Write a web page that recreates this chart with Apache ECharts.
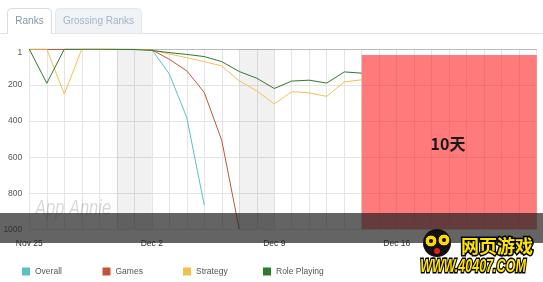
<!DOCTYPE html>
<html>
<head>
<meta charset="utf-8">
<script src="https://cdn.jsdelivr.net/npm/echarts@6/dist/echarts.min.js"></script>
<style>
html,body{margin:0;padding:0;background:#fff;}
#c{width:543px;height:282px;}
</style>
</head>
<body>
<div id="c"></div>
<script>
var dates = ['Nov 25','Nov 26','Nov 27','Nov 28','Nov 29','Nov 30','Dec 1','Dec 2','Dec 3','Dec 4',
  'Dec 5','Dec 6','Dec 7','Dec 8','Dec 9','Dec 10','Dec 11','Dec 12','Dec 13','Dec 14',
  'Dec 15','Dec 16','Dec 17','Dec 18','Dec 19','Dec 20','Dec 21','Dec 22','Dec 23','Dec 24'];
var overall = [2,2,2,2,2,2,2,3,138,380,866];
var games = [2,2,2,2,2,2,2,4,57,121,241,507,1000];
var strategy = [1,1,250,1,1,1,2,6,28,48,70,94,177,232,305,237,243,263,182,171];
var rolePlaying = [1,190,1,1,1,2,3,8,20,30,42,70,125,162,219,178,173,189,127,134];
var yTicks = ['1','200','400','600','800','1000'];
var weekends = [['Nov 30','Dec 2'],['Dec 7','Dec 9']];
var highlight = {from:'Dec 14', to:'Dec 24', top:33, bottom:1000, label:'10天'};
var legendNames = ['Overall','Games','Strategy','Role Playing'];
var colors = ['#5bc0c8','#c4533b','#f2c14e','#2f7a2f'];

var chart = echarts.init(document.getElementById('c'), null, {renderer:'canvas'});
var font = 'Liberation Sans, Arial, sans-serif';

function mkSeries(name, data, color, extra){
  var s = {name:name, type:'line', data:data, symbol:'none', smooth:false,
    lineStyle:{width:1, color:color}, itemStyle:{color:color}, z:3};
  if (extra) for (var k in extra) s[k]=extra[k];
  return s;
}

var legendLefts = [17, 97.5, 178, 258];
var option = {
  animation:false,
  color: colors,
  grid:{left:29.3, right:6.3, top:49, bottom:52.7},
  legend: legendNames.map(function(n,i){
    return {data:[n], left:legendLefts[i], top:262, itemWidth:8, itemHeight:8, icon:'rect',
      textStyle:{fontSize:8.5, color:'#555', fontFamily:font}, itemGap:5};
  }),
  xAxis:{type:'category', data:dates, boundaryGap:false,
    axisLine:{lineStyle:{color:'#bbb'}}, axisTick:{show:false},
    axisLabel:{interval:6, fontSize:8.5, color:'#333', fontFamily:font, margin:10},
    splitLine:{show:true, interval:0, lineStyle:{color:'#e4e4e4', width:1}}},
  yAxis:{type:'value', inverse:true, min:0, max:1000, interval:200,
    axisLine:{show:false}, axisTick:{show:false},
    axisLabel:{fontSize:8.5, color:'#555', fontFamily:font, margin:7,
      formatter:function(v){ var t = yTicks[Math.round(v/200)]; return v === 0 ? '{top|'+t+'}' : t; },
      rich:{top:{fontSize:8.5, color:'#555', fontFamily:font, padding:[8,0,0,0]}}},
    splitLine:{lineStyle:{color:'#e4e4e4'}}},
  series:[
    mkSeries('Overall', overall, colors[0], {
      markArea:{silent:true, itemStyle:{color:'rgba(0,0,0,0.055)'},
        data: weekends.map(function(w){ return [{xAxis:w[0]},{xAxis:w[1]}]; })}
    }),
    mkSeries('Games', games, colors[1]),
    mkSeries('Strategy', strategy, colors[2]),
    mkSeries('Role Playing', rolePlaying, colors[3], {
      markArea:{silent:true, z:10, itemStyle:{color:'rgba(255,25,25,0.58)'},
        label:{show:false},
        data:[[{xAxis:highlight.from, yAxis:highlight.top},{xAxis:highlight.to, yAxis:highlight.bottom}]]}
    })
  ],
  graphic:[
    {type:'line', shape:{x1:0,y1:33.5,x2:543,y2:33.5}, style:{stroke:'#dde2e8', lineWidth:1}, z:1},
    {type:'rect', shape:{x:55.5,y:8.5,width:86,height:25,r:[4,4,0,0]}, style:{fill:'#f0f3f6', stroke:'#e4e8ec', lineWidth:1}, z:2},
    {type:'text', style:{x:98.5,y:21,text:'Grossing Ranks', fill:'#a6b2c0', font:'10px '+font, textAlign:'center', textVerticalAlign:'middle'}, z:3},
    {type:'rect', shape:{x:7.5,y:8.5,width:44,height:25,r:[4,4,0,0]}, style:{fill:'#fff', stroke:'#d6dce3', lineWidth:1}, z:2},
    {type:'rect', shape:{x:8,y:32.5,width:43,height:2}, style:{fill:'#fff'}, z:3},
    {type:'text', style:{x:29.5,y:21,text:'Ranks', fill:'#8197b0', font:'10px '+font, textAlign:'center', textVerticalAlign:'middle'}, z:3},
    {type:'text', x:35, y:209, scaleX:0.75, style:{x:0,y:0,text:'App Annie', fill:'rgba(0,0,0,0.16)', font:'italic 22px '+font, textVerticalAlign:'middle'}, z:50},
    {type:'text', style:{x:448,y:144,text:highlight.label, fill:'#1a1a1a', font:'bold 16px "Noto Sans CJK SC", '+font, textAlign:'center', textVerticalAlign:'middle'}, z:60},
    {type:'rect', shape:{x:0,y:213,width:543,height:30}, style:{fill:'rgba(34,34,34,0.7)'}, z:100},
    {type:'circle', shape:{cx:437,cy:243,r:14}, style:{fill:'#111'}, z:110},
    {type:'circle', shape:{cx:431,cy:241,r:6}, style:{fill:'#ffd800', stroke:'#000', lineWidth:1}, z:111},
    {type:'circle', shape:{cx:444,cy:240,r:6}, style:{fill:'#ffd800', stroke:'#000', lineWidth:1}, z:111},
    {type:'circle', shape:{cx:431,cy:241,r:2}, style:{fill:'#000'}, z:112},
    {type:'circle', shape:{cx:444,cy:240,r:2}, style:{fill:'#000'}, z:112},
    {type:'circle', shape:{cx:437,cy:251,r:3}, style:{fill:'#e02020'}, z:112},
    {type:'text', style:{x:497,y:246,text:'网页游戏', fill:'#ffe400', stroke:'#000', lineWidth:3, font:'bold 18px "Noto Sans CJK SC", sans-serif', textAlign:'center', textVerticalAlign:'middle'}, z:110},
    {type:'text', x:473, y:267, scaleX:0.66, style:{x:0,y:0,text:'WWW.40407.COM', fill:'#ffe400', stroke:'#000', lineWidth:3, font:'italic 900 19px '+font, textAlign:'center', textVerticalAlign:'middle'}, z:110}
  ]
};
chart.setOption(option);
</script>
</body>
</html>
